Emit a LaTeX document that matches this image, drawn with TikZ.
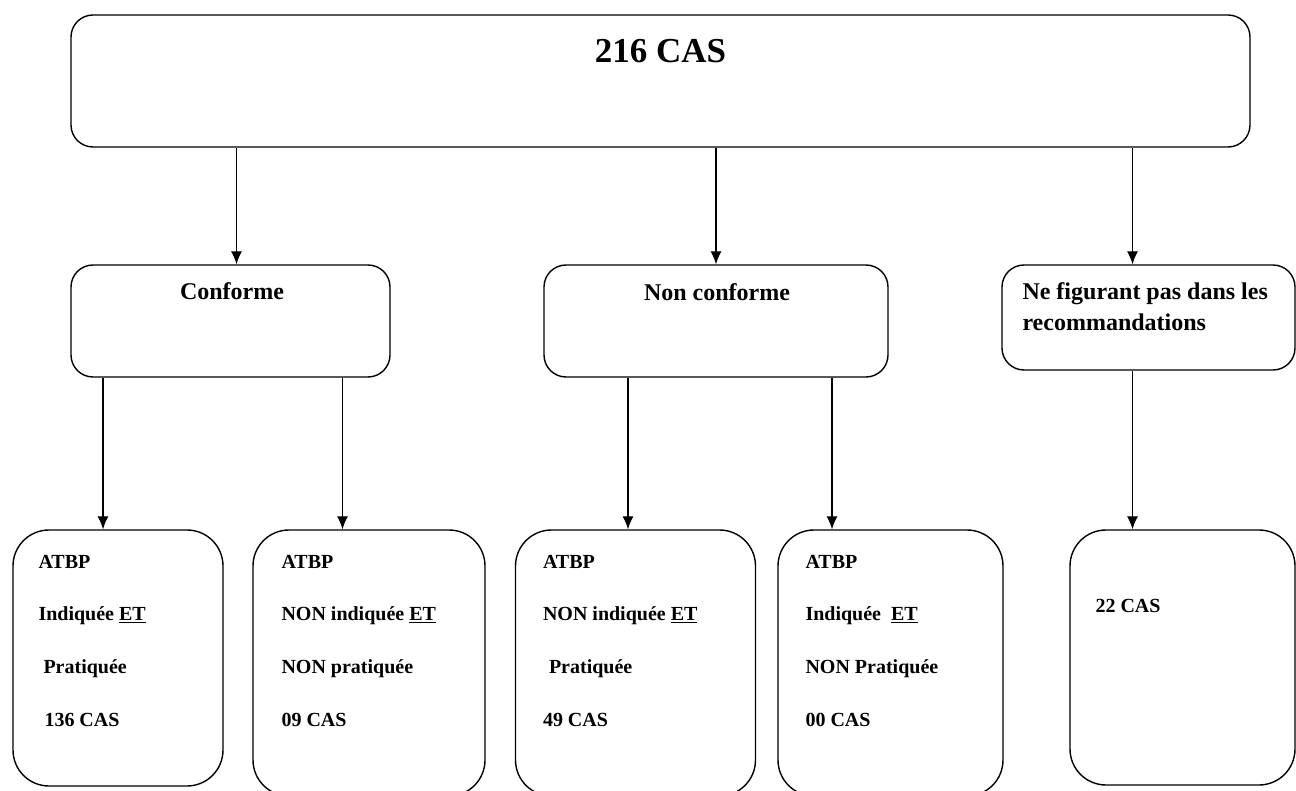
\documentclass[tikz,border=0pt]{standalone}
\usepackage{fontspec}
\setmainfont{Liberation Serif}
\usetikzlibrary{arrows,arrows.meta}

\tikzset{
	boite/.style={draw, line width=1.4pt, rounded corners=#1, inner sep=0pt},
	boite/.default=22pt,
	titre/.style={inner sep=0pt, anchor=base, font=\bfseries\fontsize{35}{40}\selectfont},
	entete/.style={inner sep=0pt, anchor=base, font=\bfseries\fontsize{24}{31}\selectfont},
	texte/.style={inner sep=0pt, anchor=base west, align=left, font=\bfseries\fontsize{20}{52.7}\selectfont},
	fleche/.style={-{Latex[length=13pt,width=11pt]}, line width=1.1pt}
}

\begin{document}
\begin{tikzpicture}[x=1pt,y=1pt]
		\useasboundingbox (0,0) rectangle (1296,-791);
		\node[boite] (T) at (660.5,-81) [minimum width=1179pt, minimum height=132pt] {};
		\node[titre] (Tt) at ([shift={(0pt,-48pt)}]T.north) {216 CAS};
		%
		\node[boite] (C) at (230.5,-321) [minimum width=319pt, minimum height=112pt] {};
		\node[boite] (NC) at (716,-321) [minimum width=344pt, minimum height=112pt] {};
		\node[boite] (NF) at (1148.5,-317.5) [minimum width=293pt, minimum height=105pt] {};
		\node[entete] (Ct) at ([shift={(1.5pt,-35pt)}]C.north) {Conforme};
		\node[entete] (NCt) at ([shift={(1pt,-36pt)}]NC.north) {Non conforme};
		% base = last line of the text
		\node[entete, anchor=base west, align=left] (NFt) at ([shift={(21pt,-66pt)}]NF.north west)
			{Ne figurant pas dans les\\recommandations};
		%
		\node[boite=36pt] (B1) at (118,-658) [minimum width=210pt, minimum height=256pt] {};
		\node[boite=36pt] (B2) at (369,-663) [minimum width=232pt, minimum height=266pt] {};
		\node[boite=36pt] (B3) at (635.5,-663) [minimum width=240pt, minimum height=266pt] {};
		\node[boite=36pt] (B4) at (890.5,-663) [minimum width=225pt, minimum height=266pt] {};
		\node[boite=36pt] (B5) at (1182.5,-657.5) [minimum width=225pt, minimum height=255pt] {};
		%
		\node[texte] (B1t) at ([shift={(26pt,-197pt)}]B1.north west)
			{ATBP\\Indiquée \underline{ET}\\\hspace*{5pt}Pratiquée\\\hspace*{6pt}136 CAS};
		\node[texte] (B2t) at ([shift={(29pt,-197pt)}]B2.north west)
			{ATBP\\NON indiquée \underline{ET}\\NON pratiquée\\09 CAS};
		\node[texte] (B3t) at ([shift={(28pt,-197pt)}]B3.north west)
			{ATBP\\NON indiquée \underline{ET}\\\hspace*{6pt}Pratiquée\\49 CAS};
		\node[texte] (B4t) at ([shift={(28pt,-197pt)}]B4.north west)
			{ATBP\\Indiquée\ \ \underline{ET}\\NON Pratiquée\\00 CAS};
		\node[texte] (B5t) at ([shift={(26pt,-83pt)}]B5.north west) {22 CAS};
		%
		\coordinate (c1) at ([xshift=6pt]C.north);
		\coordinate (c3) at ([xshift=-16pt]NF.north);
		\coordinate (b1) at ([xshift=-15pt]B1.north);
		\coordinate (b2) at ([xshift=-26.5pt]B2.north);
		\coordinate (b3) at ([xshift=-7.5pt]B3.north);
		\coordinate (b4) at ([xshift=-58.5pt]B4.north);
		\coordinate (b5) at ([xshift=-50pt]B5.north);
		\path[fleche]
		(T.south -| c1) edge (c1)
		(T.south -| NC.north) edge (NC.north)
		(T.south -| c3) edge (c3)
		(C.south -| b1) edge (b1)
		(C.south -| b2) edge (b2)
		(NC.south -| b3) edge (b3)
		(NC.south -| b4) edge (b4)
		(NF.south -| b5) edge (b5);
\end{tikzpicture}
\end{document}
